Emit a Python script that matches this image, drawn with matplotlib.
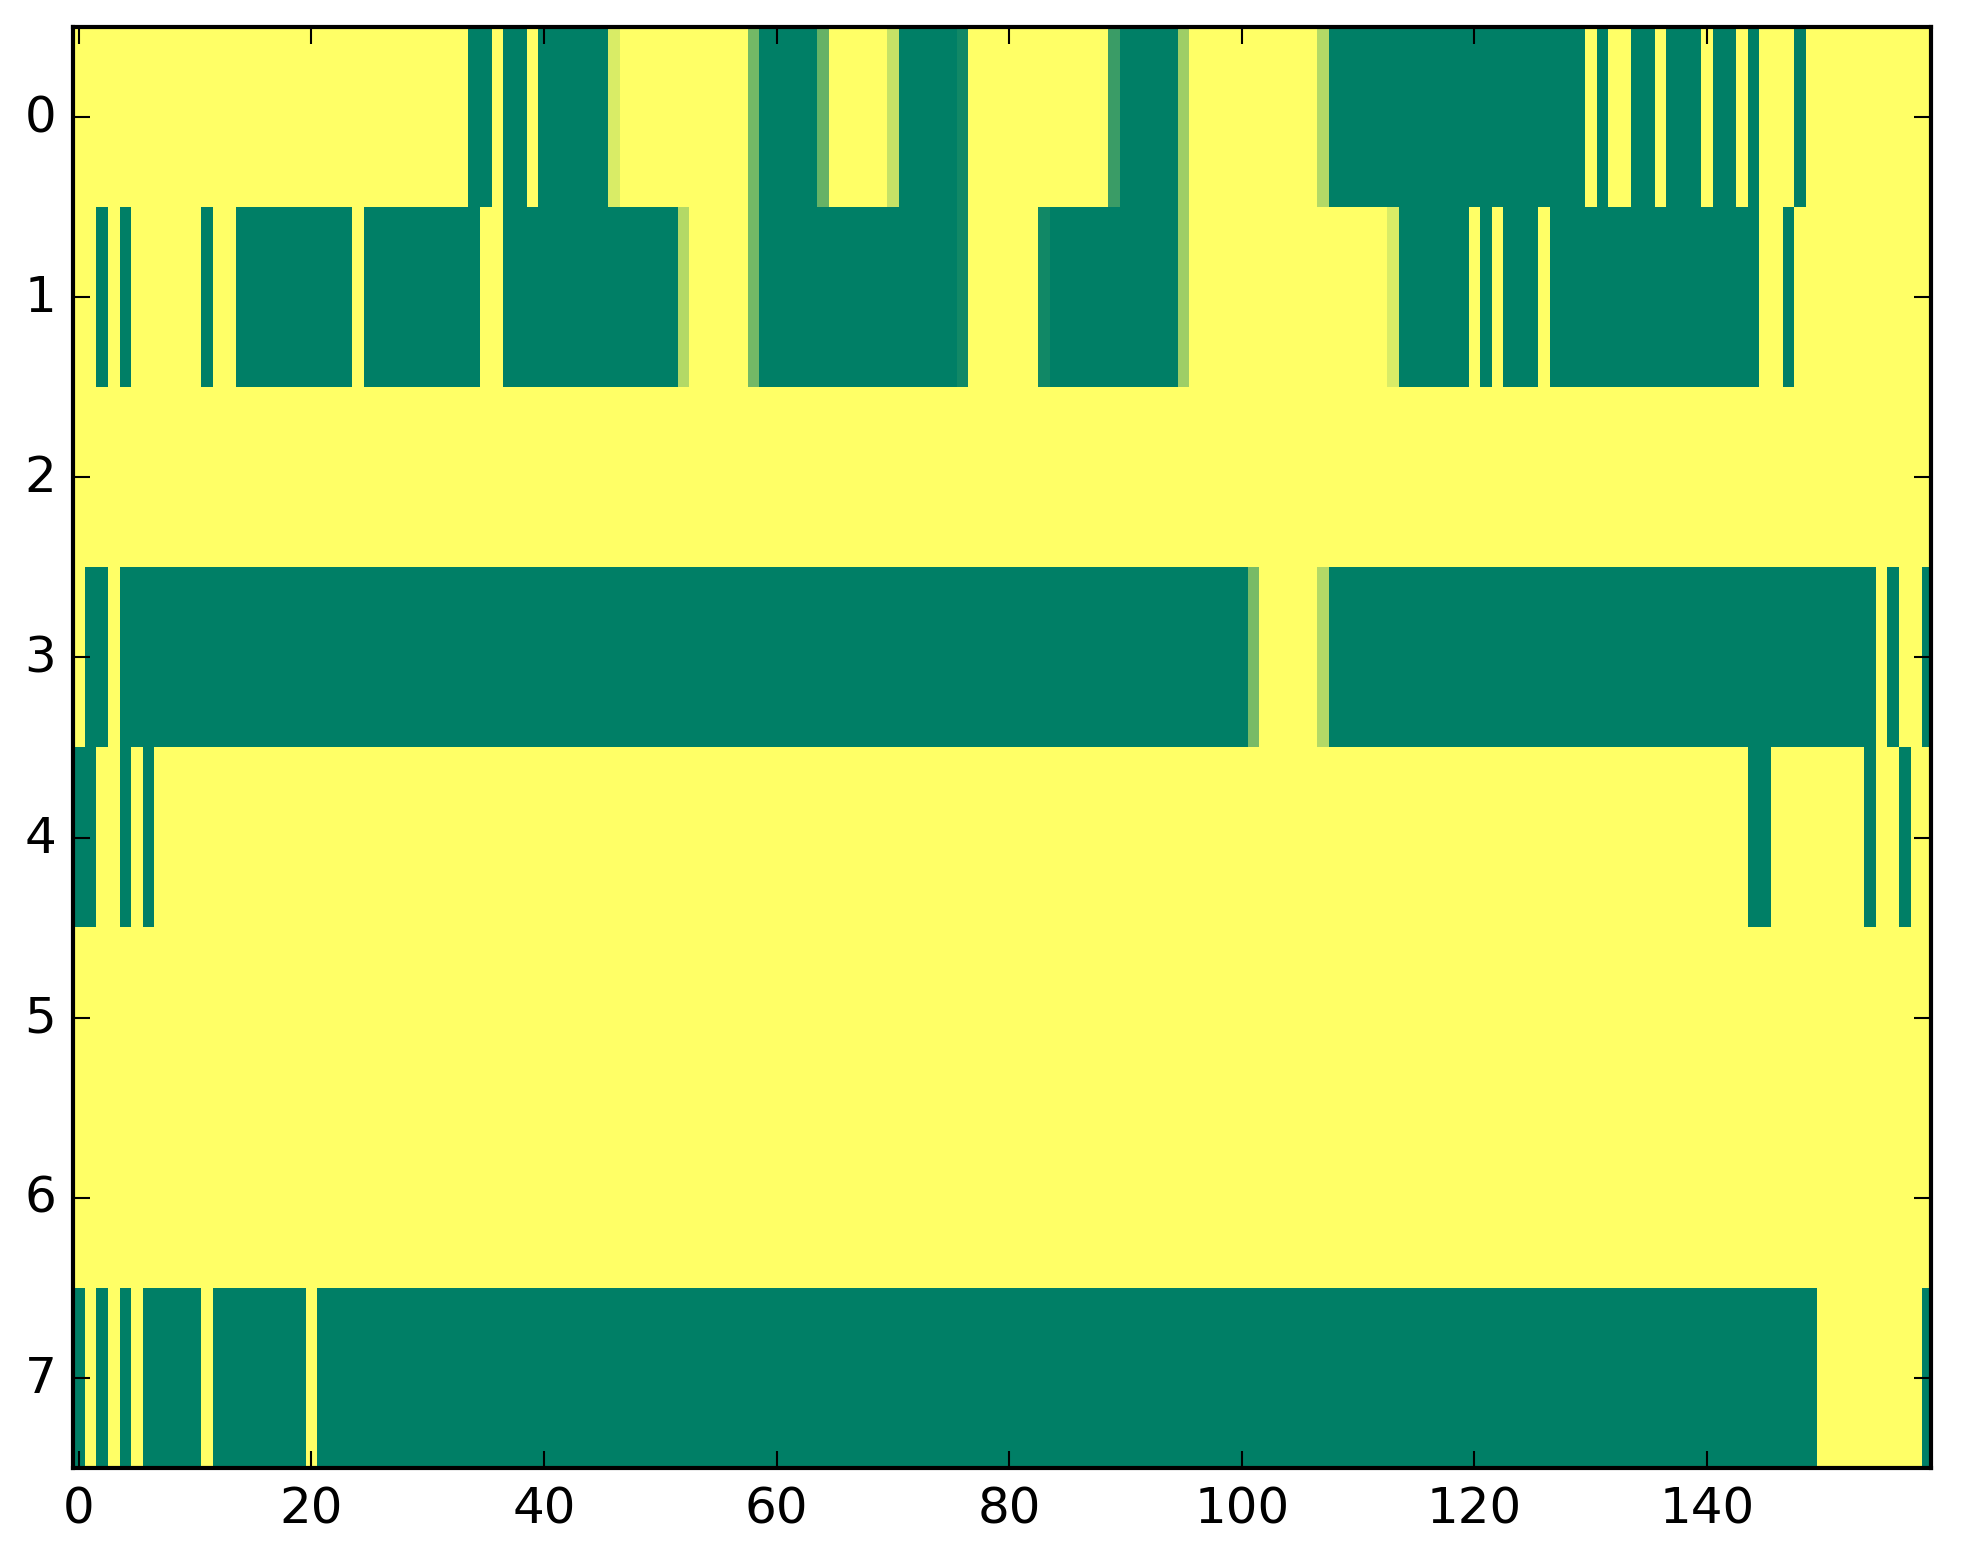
import matplotlib
matplotlib.use('Agg')
import matplotlib.pyplot as plt
import numpy as np

# each row as runs of (value, how many columns); 1 = yellow, 0 = green
row0 = [(1, 34), (0, 2), (1, 1), (0, 2), (1, 1), (0, 6), (0.85, 1), (1, 11), (0.45, 1),
        (0, 5), (0.4, 1), (1, 5), (0.77, 1), (0, 5), (0.07, 1), (1, 12), (0.23, 1), (0, 5),
        (0.62, 1), (1, 11), (0.7, 1), (0, 22), (1, 1), (0, 1), (1, 2), (0, 2), (1, 1), (0, 3),
        (1, 1), (0, 2), (1, 1), (0, 1), (1, 3), (0, 1), (1, 11)]
row1 = [(1, 2), (0, 1), (1, 1), (0, 1), (1, 6), (0, 1), (1, 2), (0, 10), (1, 1), (0, 10),
        (1, 2), (0, 15), (0.7, 1), (1, 5), (0.45, 1), (0, 17), (0.07, 1), (1, 6), (0.07, 1),
        (0, 11), (0.62, 1), (1, 17), (0.85, 1), (0, 6), (1, 1), (0, 1), (1, 1), (0, 3), (1, 1),
        (0, 18), (1, 2), (0, 1), (1, 12)]
row2 = [(1, 160)]
row3 = [(1, 1), (0, 2), (1, 1), (0, 97), (0.47, 1), (1, 5), (0.7, 1), (0, 47), (1, 1), (0, 1),
        (1, 2), (0, 1)]
row4 = [(0, 2), (1, 2), (0, 1), (1, 1), (0, 1), (1, 137), (0, 2), (1, 8), (0, 1), (1, 2),
        (0, 1), (1, 2)]
row5 = [(1, 160)]
row6 = [(1, 160)]
row7 = [(0, 1), (1, 1), (0, 1), (1, 1), (0, 1), (1, 1), (0, 5), (1, 1), (0, 8), (1, 1),
        (0, 129), (1, 9), (0, 1)]

rows = [row0, row1, row2, row3, row4, row5, row6, row7]
xticks = [0, 20, 40, 60, 80, 100, 120, 140]


def expand(runs):
    vals = [v for v, n in runs]
    counts = [n for v, n in runs]
    return np.repeat(vals, counts)


grid = np.array([expand(r) for r in rows])

plt.style.use('classic')
fig = plt.figure(figsize=(1963 / 300, 1564 / 300), facecolor='white')
ax = fig.add_axes([73 / 1963, 1 - 1469 / 1564, (1931 - 73) / 1963, (1469 - 28) / 1564])
ax.imshow(grid, cmap='summer', vmin=0, vmax=1, aspect='auto', interpolation='nearest')
ax.set_xlim(-0.5, 159.26)
ax.set_ylim(7.5, -0.5)
ax.set_xticks(xticks)
ax.set_yticks(range(len(rows)))

fig.savefig('out.png', dpi=300, facecolor='white')
